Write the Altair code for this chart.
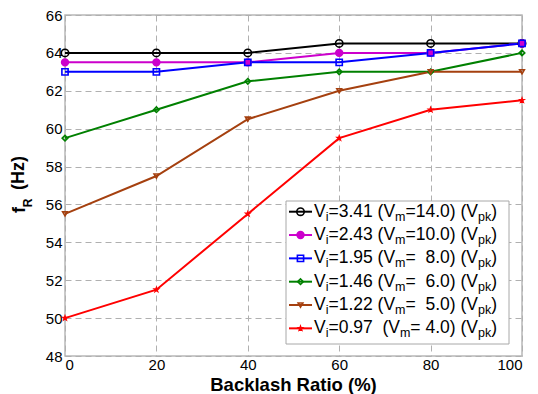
import altair as alt
import pandas as pd

# ---------------- data ----------------
ratio = [0, 20, 40, 60, 80, 100]
vi_values = ["3.41", "2.43", "1.95", "1.46", "1.22", "0.97"]
vm_values = ["14.0", "10.0", "\u00a0 8.0", "\u00a0 6.0", "\u00a0 5.0", " 4.0"]
vi_gaps = [" ", " ", " ", " ", " ", "\u00a0 "]

fr_341 = [64.0, 64.0, 64.0, 64.5, 64.5, 64.5]
fr_243 = [63.5, 63.5, 63.5, 64.0, 64.0, 64.5]
fr_195 = [63.0, 63.0, 63.5, 63.5, 64.0, 64.5]
fr_146 = [59.5, 61.0, 62.5, 63.0, 63.0, 64.0]
fr_122 = [55.5, 57.5, 60.5, 62.0, 63.0, 63.0]
fr_097 = [50.0, 51.5, 55.5, 59.5, 61.0, 61.5]
fr_all = [fr_341, fr_243, fr_195, fr_146, fr_122, fr_097]

colors = ["#000000", "#cc00cc", "#0000ff", "#008000", "#a5400f", "#ff0000"]
star = ("M0,-1L0.235,-0.324L0.951,-0.309L0.38,0.124L0.588,0.809L0,0.4"
        "L-0.588,0.809L-0.38,0.124L-0.951,-0.309L-0.235,-0.324Z")
shapes = ["circle", "circle", "square", "diamond", "triangle-down", star]
fills = ["transparent", "#cc00cc", "transparent", "transparent", "transparent", "#ff0000"]
sizes = [55, 14, 50, 80, 100, 160]

df = pd.DataFrame([
    {"ratio": r, "series": s, "fr": v}
    for s, vals in zip(vi_values, fr_all)
    for r, v in zip(ratio, vals)
])

W, H = 457, 341
FONT = "Liberation Sans"

color_scale = alt.Scale(domain=vi_values, range=colors)
shape_scale = alt.Scale(domain=vi_values, range=shapes)
fill_scale = alt.Scale(domain=vi_values, range=fills)
size_scale = alt.Scale(domain=vi_values, range=sizes)

x_enc = alt.X("ratio:Q", scale=alt.Scale(domain=[0, 100], nice=False),
              axis=alt.Axis(values=ratio, title=None, labelPadding=1))
y_enc = alt.Y("fr:Q", scale=alt.Scale(domain=[48, 66], nice=False, zero=False),
              axis=alt.Axis(values=list(range(48, 67, 2)), title=None, labelPadding=3))

lines = alt.Chart(df).mark_line(strokeWidth=2).encode(
    x=x_enc, y=y_enc,
    color=alt.Color("series:N", scale=color_scale, legend=None),
    order=alt.Order("ratio:Q"),
)
points = alt.Chart(df).mark_point(strokeWidth=1.6, opacity=1).encode(
    x=x_enc, y=y_enc,
    stroke=alt.Stroke("series:N", scale=color_scale, legend=None),
    fill=alt.Fill("series:N", scale=fill_scale, legend=None),
    shape=alt.Shape("series:N", scale=shape_scale, legend=None),
    size=alt.Size("series:N", scale=size_scale, legend=None),
)
main = alt.layer(lines, points)

# ---------------- manual legend (layout in pixels) ----------------
MAIN_FS, SUB_FS = 17.5, 12.5
widths = {"V": 667, "i": 222, "=": 584, ".": 278, " ": 278, "\u00a0": 278,
          "(": 333, ")": 333, "m": 833, "p": 556, "k": 500}
for d in "0123456789":
    widths[d] = 556


def text_width(t, fs):
    return sum(widths.get(c, 556) for c in t) * fs / 1000.0


leg_rows, leg_main, leg_sub = [], [], []
for k, (vi, vm, gap) in enumerate(zip(vi_values, vm_values, vi_gaps)):
    base = 201.7 + 23.33 * k
    center = base - 5
    leg_rows.append({"series": vi, "lx": 224, "lx2": 247, "mx": 235.5, "ly": center})
    parts = [("V", 0), ("i", 1), ("=" + vi + gap + "(V", 0), ("m", 1),
             ("=" + vm + ") (V", 0), ("pk", 1), (")", 0)]
    x = 249.0
    for t, sub in parts:
        fs = SUB_FS if sub else MAIN_FS
        rec = {"lx": x, "ly": base + (4 if sub else 0), "txt": t}
        (leg_sub if sub else leg_main).append(rec)
        x += text_width(t, fs)

leg_rows = pd.DataFrame(leg_rows)
leg_main = pd.DataFrame(leg_main)
leg_sub = pd.DataFrame(leg_sub)

px = lambda f: alt.X(f, scale=None, axis=None)
py = lambda f: alt.Y(f, scale=None, axis=None)

box = alt.Chart(pd.DataFrame({"a": [0]})).mark_rect(
    fill="white", stroke="#a8a8a8", strokeWidth=1
).encode(x=alt.value(221), x2=alt.value(444), y=alt.value(186), y2=alt.value(329))

leg_lines = alt.Chart(leg_rows).mark_rule(strokeWidth=2).encode(
    x=px("lx:Q"), x2="lx2:Q", y=py("ly:Q"),
    color=alt.Color("series:N", scale=color_scale, legend=None),
)
leg_pts = alt.Chart(leg_rows).mark_point(strokeWidth=1.6, opacity=1).encode(
    x=px("mx:Q"), y=py("ly:Q"),
    stroke=alt.Stroke("series:N", scale=color_scale, legend=None),
    fill=alt.Fill("series:N", scale=fill_scale, legend=None),
    shape=alt.Shape("series:N", scale=shape_scale, legend=None),
    size=alt.Size("series:N", scale=size_scale, legend=None),
)
leg_txt = alt.Chart(leg_main).mark_text(
    font=FONT, fontSize=MAIN_FS, align="left", baseline="alphabetic", color="black"
).encode(x=px("lx:Q"), y=py("ly:Q"), text="txt:N")
leg_subtxt = alt.Chart(leg_sub).mark_text(
    font=FONT, fontSize=SUB_FS, align="left", baseline="alphabetic", color="black"
).encode(x=px("lx:Q"), y=py("ly:Q"), text="txt:N")

one = pd.DataFrame({"a": [0]})
x_title = alt.Chart(one).mark_text(
    text="Backlash Ratio (%)", font=FONT, fontSize=18.5, fontWeight="bold",
    align="center", baseline="alphabetic", color="black"
).encode(x=alt.value(228.5), y=alt.value(375.5))
y_title_f = alt.Chart(one).mark_text(
    text="f", font=FONT, fontSize=18, fontWeight="bold", angle=270,
    align="center", baseline="alphabetic", color="black"
).encode(x=alt.value(-40), y=alt.value(195))
y_title_r = alt.Chart(one).mark_text(
    text="R", font=FONT, fontSize=12, fontWeight="bold", angle=270,
    align="center", baseline="alphabetic", color="black"
).encode(x=alt.value(-33), y=alt.value(188))
y_title_hz = alt.Chart(one).mark_text(
    text="(Hz)", font=FONT, fontSize=18, fontWeight="bold", angle=270,
    align="center", baseline="alphabetic", color="black"
).encode(x=alt.value(-41), y=alt.value(158))

overlay = alt.layer(box, leg_lines, leg_pts, leg_txt, leg_subtxt,
                    x_title, y_title_f, y_title_r, y_title_hz)

chart = alt.layer(main, overlay).resolve_scale(
    x="independent", y="independent"
).properties(
    width=W, height=H,
    autosize=alt.AutoSizeParams(type="none"),
    padding={"left": 65, "top": 15, "right": 16, "bottom": 38},
    background="white",
).configure_view(
    stroke="#b8b8b8", strokeWidth=1.5
).configure_axis(
    labelFont=FONT, labelFontSize=15, labelColor="black",
    grid=True, gridDash=[6, 4], gridColor="#b0b0b0", gridWidth=1,
    domain=False, ticks=False,
)

chart.save("out.html", embed_options={"renderer": "svg", "actions": False})
